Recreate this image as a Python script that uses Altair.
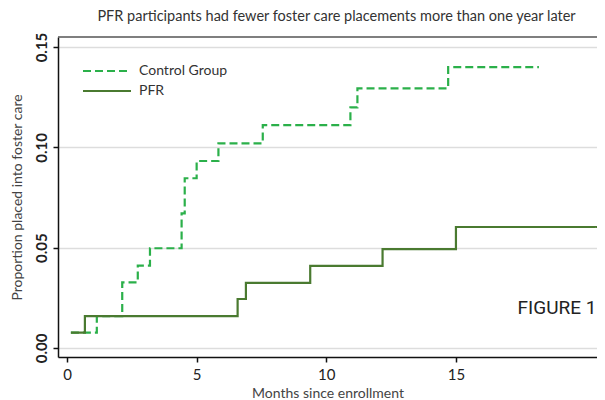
import altair as alt
import pandas as pd

# Data (cumulative proportions placed into foster care)
pfr_months = [0.15, 0.69, 6.58, 6.90, 9.38, 12.17, 15.00, 20.60]
pfr_values = [0.0076, 0.0159, 0.0244, 0.0324, 0.0409, 0.0493, 0.0603, 0.0603]

control_months = [0.15, 1.15, 2.13, 2.73, 3.20, 4.42, 4.54, 5.00, 5.84, 7.55, 10.93, 11.20, 14.70, 18.20]
control_values = [0.0076, 0.0159, 0.0327, 0.0410, 0.0497, 0.0671, 0.0846, 0.0932, 0.1020, 0.1111, 0.1199, 0.1294, 0.1400, 0.1400]

series_names = ["Control Group", "PFR"]
x_ticks = [0, 5, 10, 15]
y_ticks = [0.0, 0.05, 0.10, 0.15]

rows = []
for m, v in zip(control_months, control_values):
    rows.append({"month": m, "prop": v, "group": "Control Group", "order": len(rows)})
for m, v in zip(pfr_months, pfr_values):
    rows.append({"month": m, "prop": v, "group": "PFR", "order": len(rows)})
df = pd.DataFrame(rows)

FONT = "Lato"
W, H = 539, 320

legend_kw = dict(title=None, orient="none", legendX=38, legendY=23,
                 symbolType="M-2.4,0H2.4", symbolSize=400, symbolStrokeWidth=2,
                 labelOffset=21, labelFontSize=14, labelFont=FONT, labelColor="#333",
                 rowPadding=2, padding=0)

lines = alt.Chart(df).mark_line(interpolate="step-after", strokeWidth=2.2, clip=False).encode(
    x=alt.X("month:Q",
            scale=alt.Scale(domain=[-0.347, 20.44], nice=False, zero=False),
            axis=alt.Axis(values=x_ticks, format="d", grid=False, title="Months since enrollment",
                          tickSize=5, labelPadding=5, titlePadding=4)),
    y=alt.Y("prop:Q",
            scale=alt.Scale(domain=[-0.0045, 0.155], nice=False, zero=False),
            axis=alt.Axis(values=y_ticks, format=".2f", grid=True, title="Proportion placed into foster care",
                          tickSize=5, labelAngle=270, labelAlign="center", labelBaseline="bottom",
                          labelPadding=4, titlePadding=10, labelFontWeight="bold")),
    color=alt.Color("group:N",
                    scale=alt.Scale(domain=series_names, range=["#2bb04a", "#4a7a30"]),
                    legend=alt.Legend(**legend_kw)),
    strokeDash=alt.StrokeDash("group:N",
                              scale=alt.Scale(domain=series_names, range=[[8, 4], [1, 0]]),
                              legend=alt.Legend(**legend_kw)),
    order="order:Q",
)

top_line = alt.Chart(pd.DataFrame({"a": [0]})).mark_rule(color="#555", strokeWidth=1.5).encode(
    x=alt.value(0), x2=alt.value(W + 20), y=alt.value(0)
)

fig_label = alt.Chart(pd.DataFrame({"t": ["FIGURE 1"]})).mark_text(
    fontSize=19, font="Roboto", fontWeight="normal", color="#222", align="center", baseline="middle"
).encode(text="t:N", x=alt.value(499), y=alt.value(271))

chart = alt.layer(top_line, lines, fig_label).properties(
    width=W, height=H,
    title=alt.TitleParams("PFR participants had fewer foster care placements more than one year later",
                          fontSize=14.5, font=FONT, fontWeight="normal", color="#333", offset=8, dx=9),
    padding={"left": 50, "top": 29, "right": 0, "bottom": 43},
    autosize=alt.AutoSizeParams(type="none"),
).configure_view(stroke=None).configure_axis(
    labelFont=FONT, titleFont=FONT, labelFontSize=15, titleFontSize=14,
    labelColor="#222", titleColor="#444", titleFontWeight="normal",
    domainColor="#111", domainWidth=1.5, tickColor="#111", tickWidth=1.5,
    gridColor="#dddddd", gridWidth=1.5,
)

chart.save("out.html", embed_options={"renderer": "svg", "actions": False})
